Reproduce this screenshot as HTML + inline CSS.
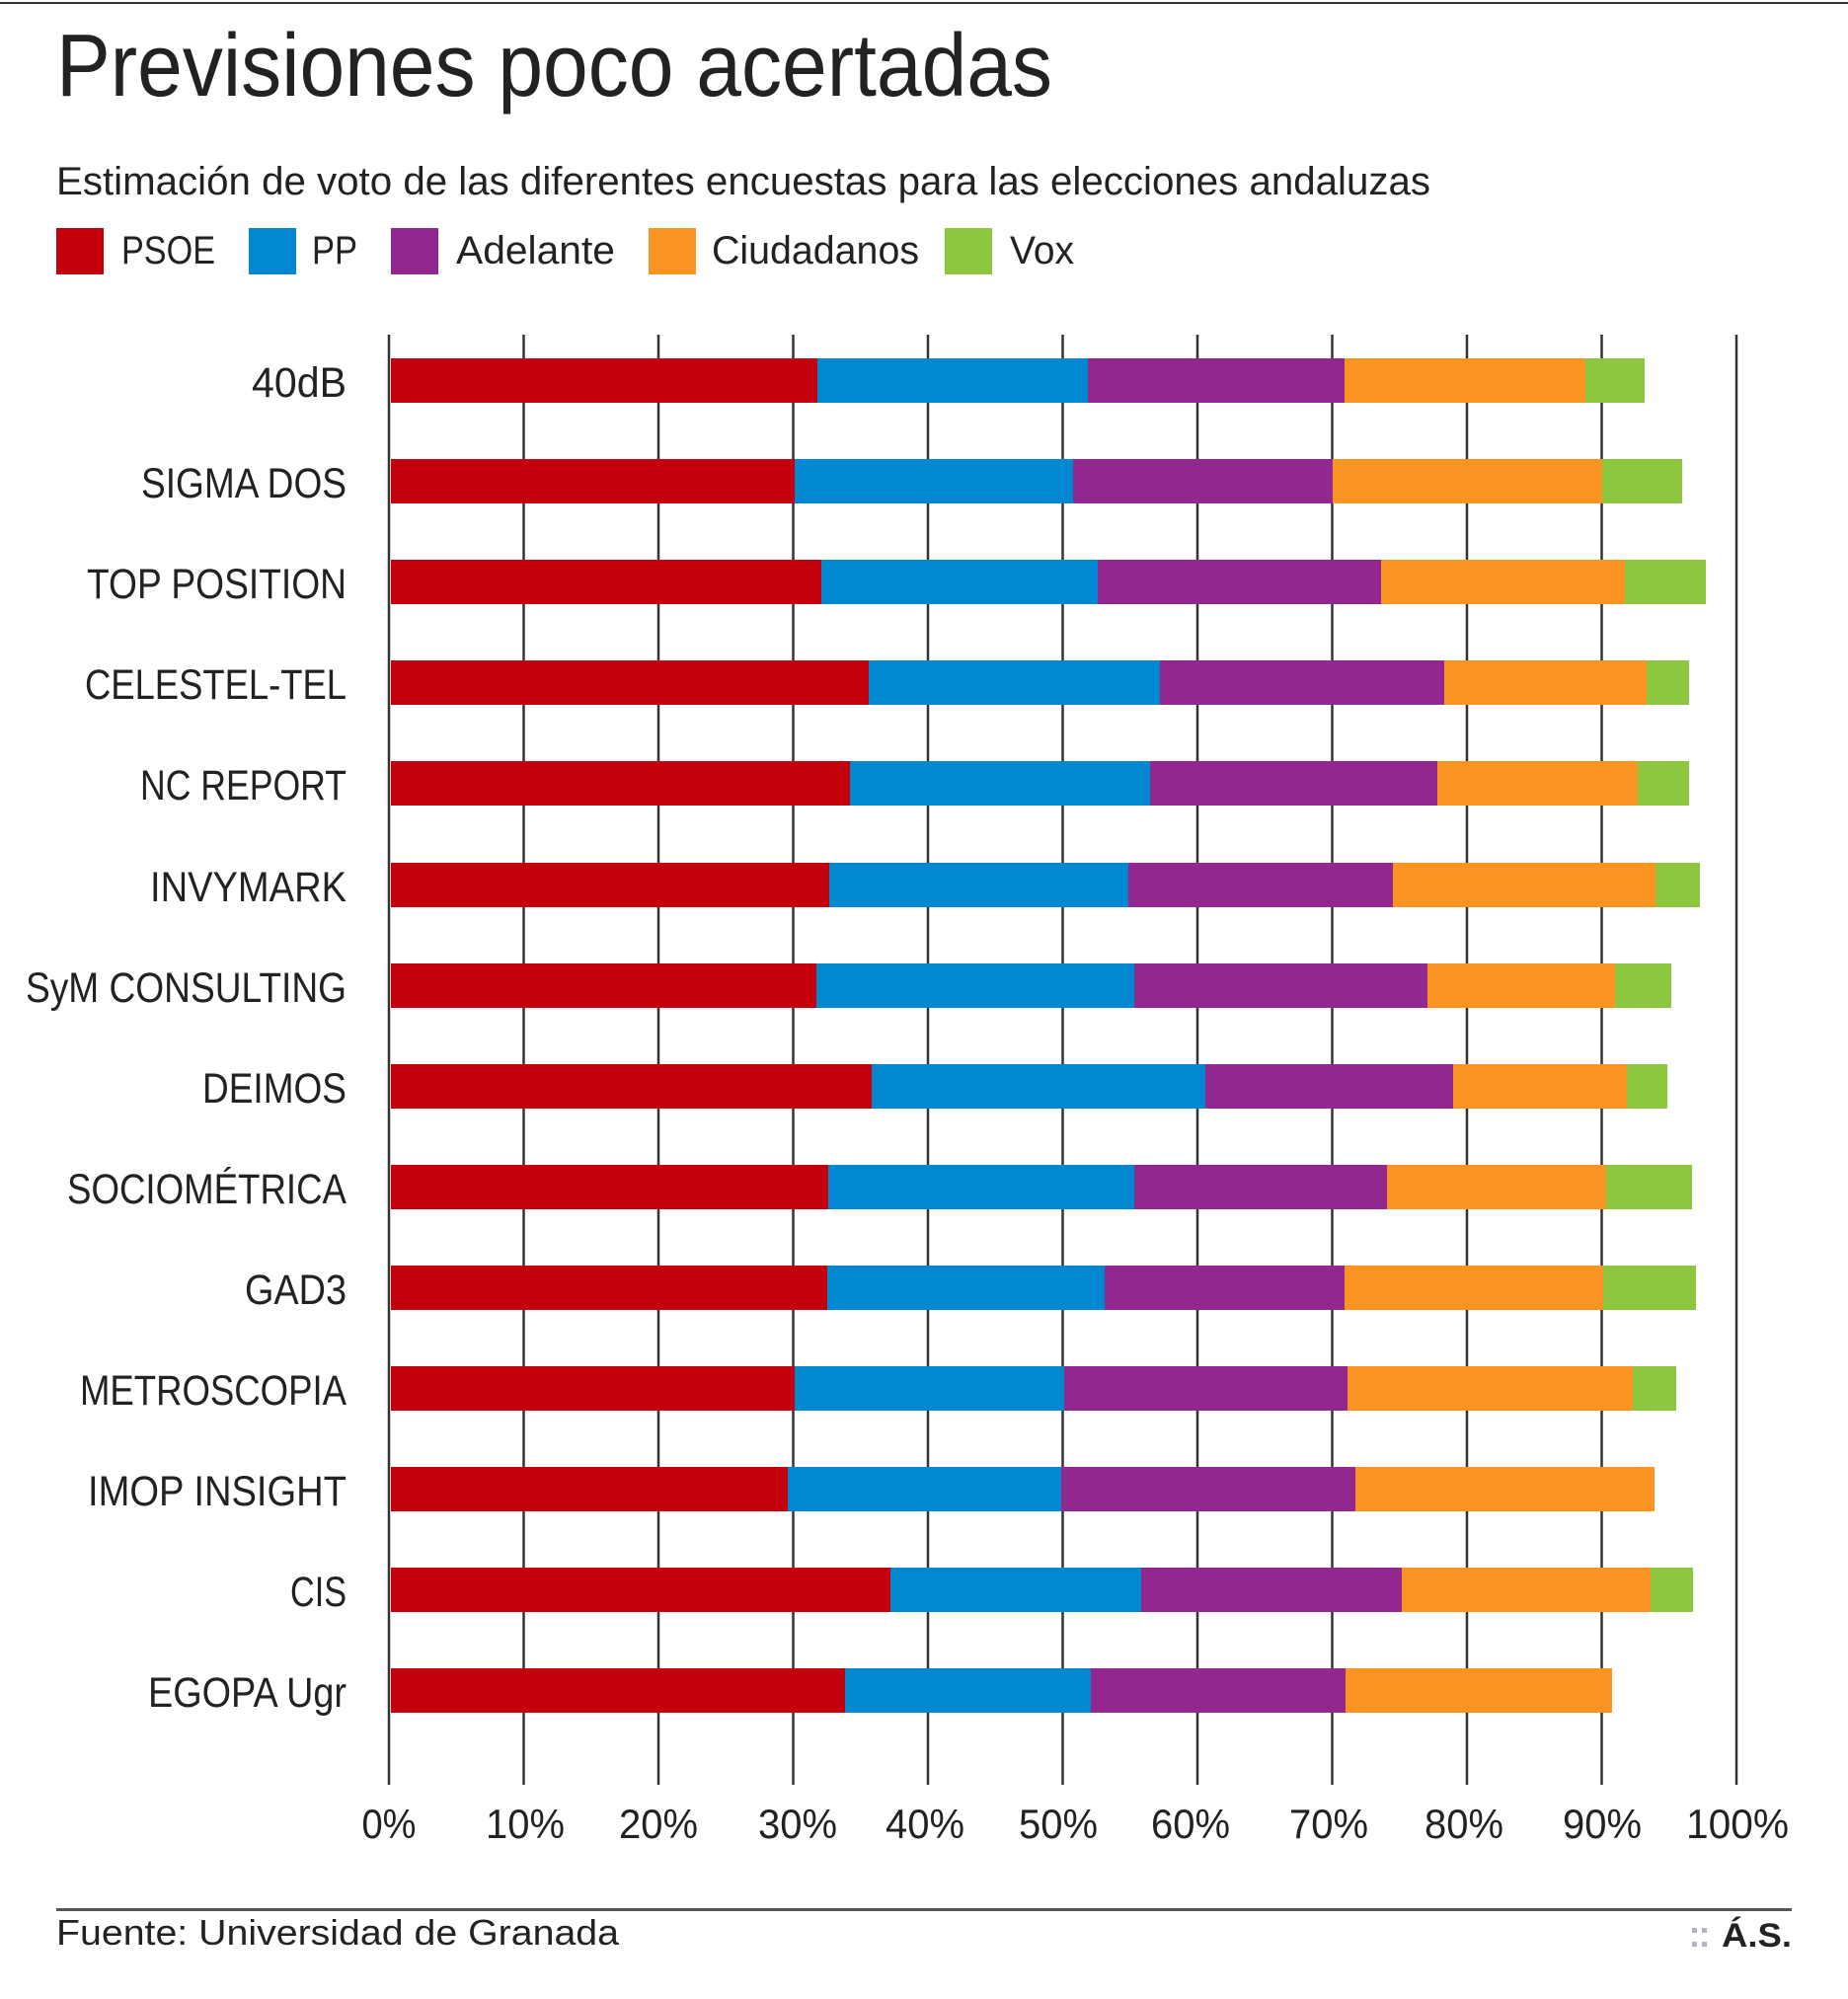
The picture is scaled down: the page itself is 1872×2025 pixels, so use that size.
<!DOCTYPE html>
<html><head><meta charset="utf-8"><style>
html,body{margin:0;padding:0;background:#fff;}
svg{display:block;}
text{font-family:"Liberation Sans",sans-serif;fill:#222;}
</style></head><body>
<svg width="1872" height="2025" viewBox="0 0 1872 2025" xmlns="http://www.w3.org/2000/svg">
<rect x="0" y="2" width="1872" height="2" fill="#333"/>
<text x="57" y="97" font-size="90" textLength="1009" lengthAdjust="spacingAndGlyphs" fill="#222">Previsiones poco acertadas</text>
<text x="57" y="197" font-size="40" textLength="1392" lengthAdjust="spacingAndGlyphs" fill="#333">Estimación de voto de las diferentes encuestas para las elecciones andaluzas</text>
<rect x="57" y="231" width="48" height="47" fill="#c4000f"/>
<text x="123" y="267" font-size="40" textLength="95" lengthAdjust="spacingAndGlyphs">PSOE</text>
<rect x="252" y="231" width="48" height="47" fill="#0288d1"/>
<text x="316" y="267" font-size="40" textLength="46" lengthAdjust="spacingAndGlyphs">PP</text>
<rect x="396" y="231" width="48" height="47" fill="#92278f"/>
<text x="462" y="267" font-size="40" textLength="161" lengthAdjust="spacingAndGlyphs">Adelante</text>
<rect x="657" y="231" width="48" height="47" fill="#fb9423"/>
<text x="721" y="267" font-size="40" textLength="210" lengthAdjust="spacingAndGlyphs">Ciudadanos</text>
<rect x="957" y="231" width="48" height="47" fill="#8dc63f"/>
<text x="1023" y="267" font-size="40" textLength="65" lengthAdjust="spacingAndGlyphs">Vox</text>

<g stroke="#333" stroke-width="2.5">
<line x1="394" y1="339" x2="394" y2="1808"/><line x1="530.5" y1="339" x2="530.5" y2="1808"/>
<line x1="667" y1="339" x2="667" y2="1808"/><line x1="803.5" y1="339" x2="803.5" y2="1808"/>
<line x1="940" y1="339" x2="940" y2="1808"/><line x1="1076.5" y1="339" x2="1076.5" y2="1808"/>
<line x1="1213" y1="339" x2="1213" y2="1808"/><line x1="1349.5" y1="339" x2="1349.5" y2="1808"/>
<line x1="1486" y1="339" x2="1486" y2="1808"/><line x1="1622.5" y1="339" x2="1622.5" y2="1808"/>
<line x1="1759" y1="339" x2="1759" y2="1808"/>
</g>

<g font-size="43" text-anchor="end">
<text x="351" y="402" textLength="96" lengthAdjust="spacingAndGlyphs">40dB</text>
<text x="351" y="504" textLength="208" lengthAdjust="spacingAndGlyphs">SIGMA DOS</text>
<text x="351" y="606" textLength="263" lengthAdjust="spacingAndGlyphs">TOP POSITION</text>
<text x="351" y="708" textLength="265" lengthAdjust="spacingAndGlyphs">CELESTEL-TEL</text>
<text x="351" y="810" textLength="209" lengthAdjust="spacingAndGlyphs">NC REPORT</text>
<text x="351" y="913" textLength="199" lengthAdjust="spacingAndGlyphs">INVYMARK</text>
<text x="351" y="1015" textLength="325" lengthAdjust="spacingAndGlyphs">SyM CONSULTING</text>
<text x="351" y="1117" textLength="146" lengthAdjust="spacingAndGlyphs">DEIMOS</text>
<text x="351" y="1219" textLength="283" lengthAdjust="spacingAndGlyphs">SOCIOMÉTRICA</text>
<text x="351" y="1321" textLength="103" lengthAdjust="spacingAndGlyphs">GAD3</text>
<text x="351" y="1423" textLength="270" lengthAdjust="spacingAndGlyphs">METROSCOPIA</text>
<text x="351" y="1525" textLength="262" lengthAdjust="spacingAndGlyphs">IMOP INSIGHT</text>
<text x="351" y="1627" textLength="57" lengthAdjust="spacingAndGlyphs">CIS</text>
<text x="351" y="1729" textLength="201" lengthAdjust="spacingAndGlyphs">EGOPA Ugr</text>
</g>

<g>
<!-- 40dB -->
<rect x="396" y="363" width="432" height="45" fill="#c4000f"/><rect x="828" y="363" width="274" height="45" fill="#0288d1"/><rect x="1102" y="363" width="260" height="45" fill="#92278f"/><rect x="1362" y="363" width="244" height="45" fill="#fb9423"/><rect x="1606" y="363" width="60" height="45" fill="#8dc63f"/>
<!-- SIGMA -->
<rect x="396" y="465" width="409" height="45" fill="#c4000f"/><rect x="805" y="465" width="282" height="45" fill="#0288d1"/><rect x="1087" y="465" width="263" height="45" fill="#92278f"/><rect x="1350" y="465" width="273" height="45" fill="#fb9423"/><rect x="1623" y="465" width="81" height="45" fill="#8dc63f"/>
<!-- TOP -->
<rect x="396" y="567" width="436" height="45" fill="#c4000f"/><rect x="832" y="567" width="280" height="45" fill="#0288d1"/><rect x="1112" y="567" width="287" height="45" fill="#92278f"/><rect x="1399" y="567" width="247" height="45" fill="#fb9423"/><rect x="1646" y="567" width="82" height="45" fill="#8dc63f"/>
<!-- CELESTEL -->
<rect x="396" y="669" width="484" height="45" fill="#c4000f"/><rect x="880" y="669" width="295" height="45" fill="#0288d1"/><rect x="1175" y="669" width="288" height="45" fill="#92278f"/><rect x="1463" y="669" width="205" height="45" fill="#fb9423"/><rect x="1668" y="669" width="43" height="45" fill="#8dc63f"/>
<!-- NC -->
<rect x="396" y="771" width="465" height="45" fill="#c4000f"/><rect x="861" y="771" width="304" height="45" fill="#0288d1"/><rect x="1165" y="771" width="291" height="45" fill="#92278f"/><rect x="1456" y="771" width="203" height="45" fill="#fb9423"/><rect x="1659" y="771" width="52" height="45" fill="#8dc63f"/>
<!-- INVY -->
<rect x="396" y="874" width="444" height="45" fill="#c4000f"/><rect x="840" y="874" width="303" height="45" fill="#0288d1"/><rect x="1143" y="874" width="268" height="45" fill="#92278f"/><rect x="1411" y="874" width="266" height="45" fill="#fb9423"/><rect x="1677" y="874" width="45" height="45" fill="#8dc63f"/>
<!-- SyM -->
<rect x="396" y="976" width="431" height="45" fill="#c4000f"/><rect x="827" y="976" width="322" height="45" fill="#0288d1"/><rect x="1149" y="976" width="297" height="45" fill="#92278f"/><rect x="1446" y="976" width="190" height="45" fill="#fb9423"/><rect x="1636" y="976" width="57" height="45" fill="#8dc63f"/>
<!-- DEIMOS -->
<rect x="396" y="1078" width="487" height="45" fill="#c4000f"/><rect x="883" y="1078" width="338" height="45" fill="#0288d1"/><rect x="1221" y="1078" width="251" height="45" fill="#92278f"/><rect x="1472" y="1078" width="176" height="45" fill="#fb9423"/><rect x="1648" y="1078" width="41" height="45" fill="#8dc63f"/>
<!-- SOCIO -->
<rect x="396" y="1180" width="443" height="45" fill="#c4000f"/><rect x="839" y="1180" width="310" height="45" fill="#0288d1"/><rect x="1149" y="1180" width="256" height="45" fill="#92278f"/><rect x="1405" y="1180" width="222" height="45" fill="#fb9423"/><rect x="1627" y="1180" width="87" height="45" fill="#8dc63f"/>
<!-- GAD3 -->
<rect x="396" y="1282" width="442" height="45" fill="#c4000f"/><rect x="838" y="1282" width="281" height="45" fill="#0288d1"/><rect x="1119" y="1282" width="243" height="45" fill="#92278f"/><rect x="1362" y="1282" width="262" height="45" fill="#fb9423"/><rect x="1624" y="1282" width="94" height="45" fill="#8dc63f"/>
<!-- METRO -->
<rect x="396" y="1384" width="409" height="45" fill="#c4000f"/><rect x="805" y="1384" width="273" height="45" fill="#0288d1"/><rect x="1078" y="1384" width="287" height="45" fill="#92278f"/><rect x="1365" y="1384" width="289" height="45" fill="#fb9423"/><rect x="1654" y="1384" width="44" height="45" fill="#8dc63f"/>
<!-- IMOP -->
<rect x="396" y="1486" width="402" height="45" fill="#c4000f"/><rect x="798" y="1486" width="277" height="45" fill="#0288d1"/><rect x="1075" y="1486" width="298" height="45" fill="#92278f"/><rect x="1373" y="1486" width="303" height="45" fill="#fb9423"/>
<!-- CIS -->
<rect x="396" y="1588" width="506" height="45" fill="#c4000f"/><rect x="902" y="1588" width="254" height="45" fill="#0288d1"/><rect x="1156" y="1588" width="264" height="45" fill="#92278f"/><rect x="1420" y="1588" width="252" height="45" fill="#fb9423"/><rect x="1672" y="1588" width="43" height="45" fill="#8dc63f"/>
<!-- EGOPA -->
<rect x="396" y="1690" width="460" height="45" fill="#c4000f"/><rect x="856" y="1690" width="249" height="45" fill="#0288d1"/><rect x="1105" y="1690" width="258" height="45" fill="#92278f"/><rect x="1363" y="1690" width="270" height="45" fill="#fb9423"/>
</g>

<g font-size="42" text-anchor="middle">
<text x="394" y="1862" textLength="55" lengthAdjust="spacingAndGlyphs">0%</text>
<text x="532" y="1862" textLength="80" lengthAdjust="spacingAndGlyphs">10%</text>
<text x="667" y="1862" textLength="80" lengthAdjust="spacingAndGlyphs">20%</text>
<text x="808" y="1862" textLength="80" lengthAdjust="spacingAndGlyphs">30%</text>
<text x="937" y="1862" textLength="80" lengthAdjust="spacingAndGlyphs">40%</text>
<text x="1072" y="1862" textLength="80" lengthAdjust="spacingAndGlyphs">50%</text>
<text x="1206" y="1862" textLength="80" lengthAdjust="spacingAndGlyphs">60%</text>
<text x="1346" y="1862" textLength="80" lengthAdjust="spacingAndGlyphs">70%</text>
<text x="1483" y="1862" textLength="80" lengthAdjust="spacingAndGlyphs">80%</text>
<text x="1623" y="1862" textLength="80" lengthAdjust="spacingAndGlyphs">90%</text>
<text x="1760" y="1862" textLength="104" lengthAdjust="spacingAndGlyphs">100%</text>
</g>

<rect x="57" y="1933" width="1758" height="3" fill="#555"/>
<text x="57" y="1970" font-size="36" textLength="570" lengthAdjust="spacingAndGlyphs" fill="#333">Fuente: Universidad de Granada</text>
<g fill="#b0b4bc">
<rect x="1714" y="1953" width="5" height="5"/><rect x="1724" y="1953" width="5" height="5"/>
<rect x="1714" y="1967" width="5" height="5"/><rect x="1724" y="1967" width="5" height="5"/>
</g>
<text x="1744" y="1972" font-size="34" font-weight="bold" textLength="71" lengthAdjust="spacingAndGlyphs" fill="#111">Á.S.</text>
</svg>
</body></html>
